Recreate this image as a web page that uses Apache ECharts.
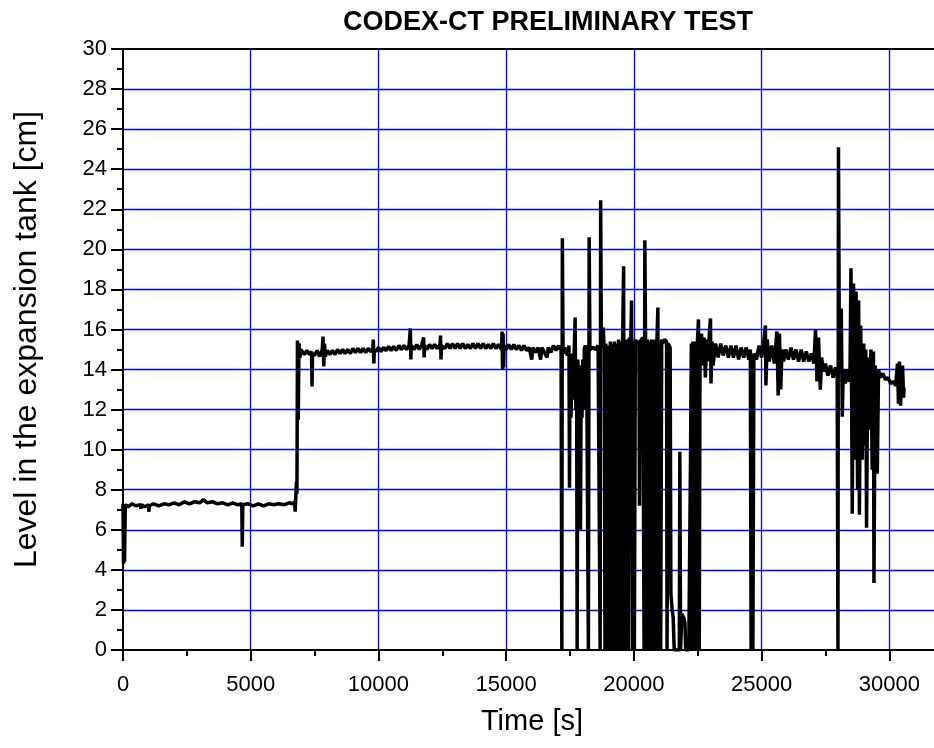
<!DOCTYPE html>
<html>
<head>
<meta charset="utf-8">
<title>CODEX-CT preliminary test</title>
<script src="https://cdn.jsdelivr.net/npm/echarts@6/dist/echarts.min.js"></script>
<style>
  html, body { margin: 0; padding: 0; background: #fff; }
  #chart { width: 934px; height: 748px; }
</style>
</head>
<body>
<div id="chart"></div>
<script>
// tank level, split by test phase
// phase 1: first fill at ~7.3 cm, then the step up
const phase1Time = [0, 20, 40, 60, 90, 200, 350, 500, 690, 700, 720, 850, 1000, 1010, 1030,
  1200, 1400, 1600, 1800, 2000, 2200, 2400, 2600, 2800, 3000, 3150, 3300, 3500, 3700, 3900,
  4100, 4300, 4500, 4650, 4670, 4690, 4900, 5100, 5300, 5500, 5700, 5900, 6100, 6300, 6500,
  6650, 6720, 6740, 6760, 6790, 6810, 6830, 6860, 6890, 6930, 6960]
const phase1Level = [7.3, 4.3, 7.2, 4.4, 7.25, 7.15, 7.3, 7.2, 7.25, 7.05, 7.25, 7.15, 7.25, 6.9, 7.2,
  7.3, 7.2, 7.3, 7.25, 7.35, 7.25, 7.4, 7.3, 7.4, 7.35, 7.5, 7.35, 7.4, 7.3, 7.35,
  7.25, 7.35, 7.25, 7.3, 5.15, 7.25, 7.3, 7.2, 7.3, 7.2, 7.3, 7.25, 7.3, 7.25, 7.35,
  7.3, 7.4, 6.9, 7.5, 8.4, 7.8, 15.45, 11.5, 15.3, 14.6, 15.0]

// phase 2: plateau around 15 cm
const phase2Time = [7000, 7100, 7200, 7300, 7380, 7400, 7420, 7500, 7600, 7700, 7800, 7830, 7860, 7890, 7920,
  8000, 8100, 8200, 8300, 8400, 8500, 8600, 8700, 8800, 8900, 9000, 9100, 9200, 9300, 9400,
  9500, 9600, 9700, 9780, 9800, 9820, 9840, 9900, 10000, 10100, 10200, 10300, 10400, 10500, 10600,
  10700, 10800, 10900, 11000, 11100, 11200, 11250, 11270, 11290, 11400, 11500, 11600, 11700, 11770, 11790,
  11810, 11900, 12000, 12100, 12200, 12300, 12410, 12430, 12450, 12470, 12600, 12700, 12800, 12900, 13000,
  13100, 13200, 13300, 13400, 13500, 13600, 13700, 13800, 13900, 14000, 14100, 14200, 14300, 14400, 14500,
  14600, 14700, 14820, 14840, 14860, 14880, 14900, 14920, 15000, 15100, 15200, 15300, 15400, 15500, 15600,
  15700, 15800, 15900, 15950, 16000, 16050, 16150, 16250, 16350, 16400, 16500, 16600, 16650, 16750, 16850,
  16950, 17050]
const phase2Level = [15.0, 14.75, 14.95, 14.75, 14.9, 13.15, 14.8, 14.7, 14.95, 14.65, 15.0, 15.65, 14.15, 15.3, 14.65,
  14.95, 14.75, 14.95, 14.75, 15.0, 14.8, 15.0, 14.8, 15.0, 14.8, 15.05, 14.85, 15.05, 14.85, 15.05,
  14.85, 15.05, 14.9, 15.05, 15.5, 14.3, 15.0, 14.9, 15.1, 14.9, 15.1, 14.95, 15.15, 14.95, 15.15,
  14.95, 15.2, 15.0, 15.2, 15.0, 15.2, 16.05, 14.5, 15.2, 15.0, 15.25, 15.0, 15.25, 15.6, 14.6,
  15.2, 15.0, 15.25, 15.05, 15.25, 15.05, 15.25, 15.7, 14.5, 15.2, 15.05, 15.3, 15.05, 15.3, 15.05,
  15.3, 15.05, 15.3, 15.05, 15.25, 15.05, 15.3, 15.05, 15.3, 15.05, 15.3, 15.05, 15.25, 15.05, 15.3,
  15.05, 15.25, 15.0, 15.9, 14.0, 15.8, 14.1, 15.2, 15.0, 15.25, 15.0, 15.25, 15.0, 15.2, 14.95,
  15.2, 14.95, 15.1, 14.8, 14.5, 15.1, 14.85, 15.1, 14.5, 15.1, 14.85, 14.6, 15.1, 14.85, 15.2,
  14.95, 15.2]

// phase 3: disturbed part with drops to 0 and spikes
const phase3Time = [17100, 17150, 17180, 17200, 17230, 17300, 17400, 17460, 17480, 17500, 17540, 17580, 17620, 17660, 17700,
  17730, 17760, 17780, 17810, 17840, 17870, 17910, 17940, 17970, 18000, 18030, 18060, 18100, 18150, 18220,
  18250, 18280, 18400, 18500, 18600, 18680, 18700, 18730, 18800, 18840, 18870, 18900, 18930, 18960, 19000,
  19040, 19080, 19120, 19160, 19200, 19240, 19280, 19320, 19360, 19400, 19440, 19480, 19520, 19560, 19600,
  19620, 19660, 19700, 19740, 19780, 19820, 19880, 19910, 19940, 19980, 20020, 20060, 20100, 20200, 20220,
  20250, 20350, 20400, 20430, 20460, 20500, 20540, 20580, 20620, 20660, 20700, 20740, 20780, 20820, 20860,
  20900, 20940, 20970, 21010, 21050, 21090, 21130, 21200, 21280, 21300, 21340, 21420, 21450, 21500, 21540,
  21580, 21700, 21780, 21800, 21830, 21880, 21960, 22000, 22030, 22150, 22200, 22220, 22250, 22280, 22310,
  22340, 22370, 22400, 22430, 22460, 22490, 22530, 22560, 22590, 22650, 22700, 22750, 22800, 22850, 22900,
  22960, 23000, 23020, 23060, 23100, 23200, 23300, 23400, 23500, 23600, 23700, 23800, 23900, 24000, 24100,
  24200, 24300, 24400, 24500, 24560, 24590, 24620, 24660, 24700, 24800, 24900, 25000, 25080, 25150, 25170,
  25220, 25300, 25400, 25500, 25600, 25650, 25700, 25750, 25800, 25860, 25950, 26050, 26150, 26250, 26350,
  26450, 26550, 26650, 26750, 26850, 26950, 27050, 27110, 27170, 27230, 27300, 27350, 27430, 27500, 27600,
  27700, 27800, 27900, 27960, 27990, 28010, 28050, 28120, 28160, 28200, 28280, 28350, 28400, 28460, 28500,
  28550, 28600, 28650, 28700, 28760, 28800, 28830, 28880, 28940, 29000, 29040, 29080, 29110, 29160, 29220,
  29280, 29330, 29380, 29400, 29450, 29530, 29580, 29650, 29750, 29850, 29950, 30050, 30150, 30250, 30320,
  30360, 30400, 30440, 30480, 30520, 30560, 30580]
const phase3Level = [15.0, 15.2, 0, 20.55, 14.8, 15.1, 14.7, 15.2, 8.1, 14.6, 11.6, 14.8, 12.5, 14.6, 16.6,
  12.0, 14.2, 0, 14.5, 11.8, 14.0, 6.0, 14.2, 11.6, 14.5, 12.0, 15.0, 15.2, 14.9, 0,
  20.6, 15.0, 15.1, 15.0, 15.2, 0, 22.45, 15.1, 16.1, 15.0, 0, 15.3, 11.4, 0, 15.2,
  0, 15.4, 0, 15.3, 0, 15.4, 0, 15.3, 0, 15.5, 0, 15.4, 0, 15.5, 19.15,
  0, 15.4, 0, 15.5, 0, 15.6, 15.4, 17.45, 0, 15.4, 0, 15.5, 15.3, 15.4, 7.2,
  15.4, 15.6, 0, 20.45, 15.3, 0, 15.5, 0, 15.4, 0, 15.5, 0, 8.5, 15.5, 0,
  15.3, 17.1, 0, 15.4, 0, 15.5, 15.3, 15.5, 15.4, 0, 15.3, 15.1, 2.8, 2.0, 1.6,
  0, 0, 0, 9.9, 0, 1.8, 1.6, 1.35, 0, 0, 0, 9.9, 15.3, 0, 15.4,
  0, 15.2, 0, 15.4, 0, 15.5, 16.5, 0, 14.5, 15.8, 14.2, 15.6, 13.6, 15.5, 14.4,
  15.9, 16.55, 13.3, 15.4, 14.2, 15.3, 14.6, 15.3, 14.7, 15.2, 14.6, 15.2, 14.6, 15.2, 14.5,
  15.1, 14.6, 15.1, 14.5, 15.0, 0, 14.6, 0, 14.8, 14.5, 15.2, 14.6, 15.3, 16.2, 13.2,
  15.5, 14.4, 15.2, 14.3, 15.9, 12.7, 15.8, 13.0, 15.0, 14.4, 15.0, 14.5, 15.1, 14.5, 15.0,
  14.4, 15.0, 14.4, 14.9, 14.4, 14.8, 14.3, 16.0, 13.4, 15.6, 13.0, 14.6, 13.9, 14.3, 13.7,
  14.2, 13.6, 14.1, 13.8, 0, 25.1, 13.8, 17.05, 11.65, 14.0, 13.3, 14.0, 13.4, 13.6, 19.05,
  6.8, 18.3, 9.5, 17.9, 8.0, 17.45, 6.75, 16.2, 9.5, 15.3, 10.2, 15.0, 6.1, 14.6, 11.0,
  15.0, 9.0, 14.9, 3.35, 14.2, 8.8, 14.0, 13.6, 13.8, 13.5, 13.6, 13.3, 13.4, 13.2, 14.3,
  12.3, 14.4, 12.2, 13.4, 14.2, 12.6, 13.1]

const timeS = phase1Time.concat(phase2Time, phase3Time)
const levelCm = phase1Level.concat(phase2Level, phase3Level)

const titleText = 'CODEX-CT PRELIMINARY TEST'
const xName = 'Time [s]'
const yName = 'Level in the expansion tank [cm]'

const font = "'Liberation Sans', Arial, sans-serif"
const gridBlue = 'rgb(0, 0, 255)'

const chartInstance = echarts.init(document.getElementById('chart'))

const option = {
  animation: false,
  title: {
    text: titleText,
    left: 543,
    top: 4,
    textAlign: 'center',
    textStyle: {
      fontFamily: font,
      fontSize: 27,
      fontWeight: 'bold',
      color: '#000'
    }
  },
  grid: {
    left: 123,
    top: 49,
    width: 894,   // runs past the right edge like the original
    height: 601,
    outerBoundsMode: 'none',
    containLabel: false
  },
  xAxis: [
    {
      type: 'value',
      min: 0,
      max: 35000,
      interval: 5000,
      name: xName,
      nameLocation: 'middle',
      nameGap: 57,
      nameTextStyle: {
        fontFamily: font,
        fontSize: 29,
        color: '#000',
        padding: [0, 76, 0, 0]
      },
      axisLine: { onZero: false, lineStyle: { color: '#000', width: 2 } },
      axisTick: { inside: false, length: 11, lineStyle: { color: '#000', width: 2 } },
      minorTick: { show: true, splitNumber: 2, length: 6, lineStyle: { color: '#000', width: 2 } },
      axisLabel: {
        fontFamily: font,
        fontSize: 22,
        color: '#000',
        margin: 24,
        formatter: v => String(v)
      },
      splitLine: { show: true, showMinLine: false, lineStyle: { color: gridBlue, width: 1.3, opacity: 1 } },
      minorSplitLine: { show: false }
    },
    {
      // top frame line only
      type: 'value',
      position: 'top',
      min: 0,
      max: 35000,
      axisLine: { show: true, onZero: false, lineStyle: { color: '#000', width: 2 } },
      axisTick: { show: false },
      axisLabel: { show: false },
      splitLine: { show: false }
    }
  ],
  yAxis: {
    type: 'value',
    min: 0,
    max: 30,
    interval: 2,
    name: yName,
    nameLocation: 'middle',
    nameRotate: 90,
    nameGap: 80,
    nameTextStyle: {
      fontFamily: font,
      fontSize: 32,
      color: '#000',
      padding: [0, 0, 0, 20]
    },
    axisLine: { onZero: false, lineStyle: { color: '#000', width: 2 } },
    axisTick: { inside: false, length: 12, lineStyle: { color: '#000', width: 2 } },
    minorTick: { show: true, splitNumber: 2, length: 6, lineStyle: { color: '#000', width: 2 } },
    axisLabel: {
      fontFamily: font,
      fontSize: 22,
      color: '#000',
      margin: 16
    },
    splitLine: { show: true, showMinLine: false, showMaxLine: false, lineStyle: { color: gridBlue, width: 1.3, opacity: 1 } },
    minorSplitLine: { show: false }
  },
  series: [
    {
      type: 'line',
      data: timeS.map((t, i) => [t, levelCm[i]]),
      showSymbol: false,
      symbol: 'none',
      clip: true,
      lineStyle: { color: '#000', width: 3.5 }
    }
  ]
}
chartInstance.setOption(option)
</script>
</body>
</html>
